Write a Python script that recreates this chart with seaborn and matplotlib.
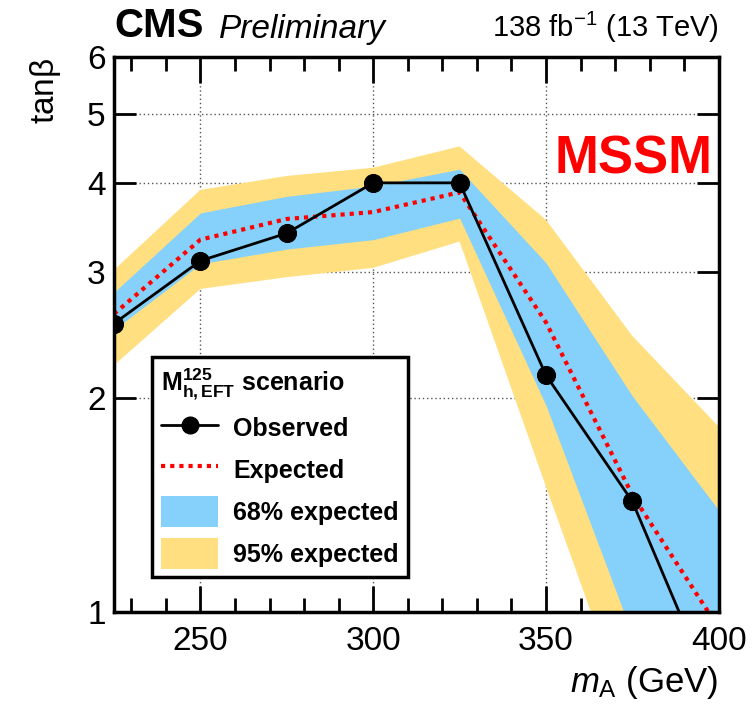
import numpy as np
import pandas as pd
import seaborn as sns
import matplotlib.pyplot as plt
from matplotlib.lines import Line2D
from matplotlib.patches import Patch
from matplotlib.ticker import FixedLocator, MultipleLocator, NullLocator

# data
mass = [225, 250, 275, 300, 325, 350, 375, 400]
observed = [2.54, 3.11, 3.40, 4.00, 4.00, 2.15, 1.43, 0.74]
expected = [2.62, 3.33, 3.56, 3.64, 3.88, 2.55, 1.46, 0.95]
band68_lo = [2.49, 3.08, 3.23, 3.33, 3.57, 1.95, 0.93, 0.55]
band68_hi = [2.81, 3.63, 3.83, 3.96, 4.18, 3.09, 2.01, 1.39]
band95_lo = [2.22, 2.84, 2.95, 3.04, 3.31, 1.50, 0.69, 0.45]
band95_hi = [3.02, 3.91, 4.09, 4.20, 4.50, 3.55, 2.44, 1.82]

y_ticks = [1, 2, 3, 4, 5, 6]
x_ticks = [250, 300, 350, 400]

df = pd.DataFrame({"mA": mass, "obs": observed, "exp": expected})

col95 = "#FFDF7F"
col68 = "#85D1FB"

sns.set_style("ticks")
plt.rcParams["font.family"] = ["Liberation Sans", "DejaVu Sans"]
plt.rcParams["mathtext.fontset"] = "custom"
plt.rcParams["mathtext.rm"] = "Liberation Sans"
plt.rcParams["mathtext.it"] = "Liberation Sans:italic"
plt.rcParams["mathtext.bf"] = "Liberation Sans:bold"
for k in ["text.color", "axes.labelcolor", "xtick.color", "ytick.color", "axes.edgecolor"]:
    plt.rcParams[k] = "black"

fig = plt.figure(figsize=(7.55, 7.07), dpi=100)
ax = fig.add_axes([0.151, 0.134, 0.801, 0.785])

ax.fill_between(mass, band95_lo, band95_hi, color=col95, lw=0, zorder=1)
ax.fill_between(mass, band68_lo, band68_hi, color=col68, lw=0, zorder=2)
sns.lineplot(data=df, x="mA", y="exp", ax=ax, color="red", lw=3,
             linestyle=(0, (1, 1.2)), zorder=3)
sns.lineplot(data=df, x="mA", y="obs", ax=ax, color="black", lw=2,
             marker="o", markersize=13, markeredgecolor="black", zorder=4)

ax.set_yscale("log")
ax.set_xlim(225, 400)
ax.set_ylim(1, 6)
ax.yaxis.set_major_locator(FixedLocator(y_ticks))
ax.yaxis.set_minor_locator(NullLocator())
ax.set_yticklabels([str(t) for t in y_ticks])
ax.xaxis.set_major_locator(FixedLocator(x_ticks))
ax.xaxis.set_minor_locator(MultipleLocator(10))

ax.grid(True, which="major", color="#555555", linestyle=(0, (1, 2)), lw=1)
ax.tick_params(which="both", direction="in", top=True, right=True,
               width=2, labelsize=24, pad=10)
ax.tick_params(which="major", length=19)
ax.tick_params(which="minor", length=10)
ax.tick_params(axis="y", which="major", length=16, pad=6)
for s in ax.spines.values():
    s.set_linewidth(2.5)
    s.set_zorder(10)

ax.set_xlabel("")
ax.set_ylabel("")
fig.text(0.952, 0.008, r"$m_{\mathrm{A}}$ (GeV)", ha="right", va="bottom", fontsize=25)
fig.text(0.06, 0.919, r"tan$\mathrm{\beta}$", rotation=90, ha="center", va="top",
         fontsize=24)

fig.text(0.151, 0.937, "CMS", fontsize=29, fontweight="bold", ha="left", va="bottom")
fig.text(0.29, 0.937, "Preliminary", fontsize=24, style="italic", ha="left", va="bottom")
fig.text(0.952, 0.937, r"138 fb$^{-1}$ (13 TeV)", fontsize=21, ha="right", va="bottom")
ax.text(0.99, 0.815, "MSSM", transform=ax.transAxes, color="red", fontsize=38,
        fontweight="bold", ha="right", va="center")

handles = [
    Line2D([], [], color="black", lw=2, marker="o", markersize=12),
    Line2D([], [], color="red", lw=3, linestyle=(0, (1, 1.2))),
    Patch(facecolor=col68, edgecolor="none"),
    Patch(facecolor=col95, edgecolor="none"),
]
labels = ["Observed", "Expected", "68% expected", "95% expected"]
leg = ax.legend(handles, labels, title=r"$\mathbf{M^{125}_{h,EFT}}$ scenario",
                loc="lower left", bbox_to_anchor=(0.063, 0.063),
                prop={"weight": "bold", "size": 18}, title_fontsize=18,
                frameon=True, fancybox=False, framealpha=1, edgecolor="black",
                borderpad=0.35, borderaxespad=0, handlelength=2.3, handleheight=1.5,
                handletextpad=0.6, labelspacing=0.45, alignment="left")
leg.get_title().set_fontweight("bold")
leg.get_frame().set_linewidth(2.5)
leg.set_zorder(20)

fig.savefig("out.png", dpi=100)
